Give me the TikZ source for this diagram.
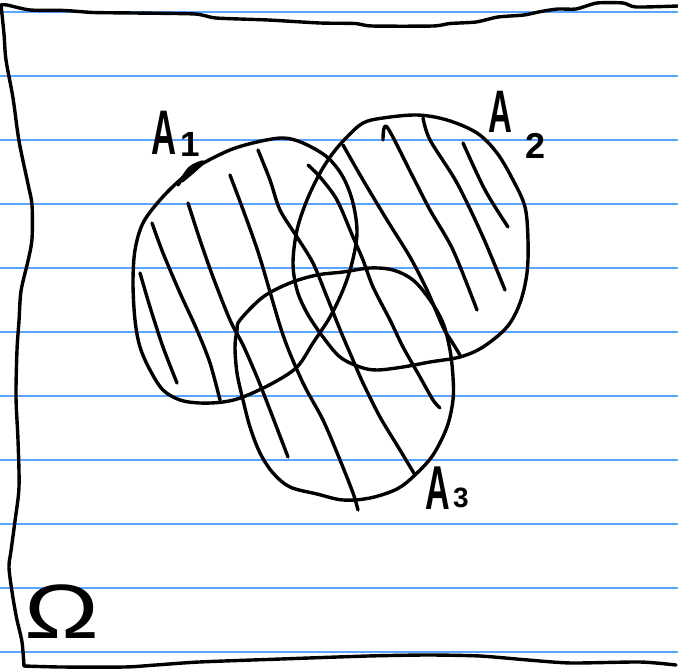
\documentclass[tikz,border=0pt]{standalone}
\usepackage{fontspec}
\setmainfont{Liberation Sans}
\definecolor{ruled}{RGB}{90,165,255}
\tikzset{
  ink/.style={line width=3.4pt, black, line cap=round, line join=round},
  rule/.style={line width=1.4pt, ruled},
  lbl/.style={inner sep=0pt, anchor=center}
}
\begin{document}
\begin{tikzpicture}[x=1pt, y=-1pt]
\useasboundingbox (0,0) rectangle (678,671);
% ruled lines
\foreach \yy in {12,76,140,204,268,332,396,460,524,588,652}
  \draw[rule] (0,\yy) -- (678,\yy);
% page border
\draw[ink] plot[smooth, tension=0.4] coordinates {(678,6) (636,7) (623,3) (597,3) (576,9) (558,9) (541,11.5) (524,15) (498,17) (476,22) (450,23.5) (433,26) (372,26) (355,23.5) (320,23) (268,20) (216,18) (195,14) (134,13) (93,12.5) (65,10.5) (30,10) (7,5) (1,5)};
\draw[ink] plot[smooth, tension=0.5] coordinates {(1,5) (4,34) (6,60) (13,98) (19,141) (28,184) (32,205) (32,239) (28,261) (21,291) (19,321) (17,350) (16,397) (18,440) (19,487) (15,521) (11,551) (9,568) (13,598) (17,620) (22,642) (24,666)};
\draw[ink] plot[smooth, tension=0.4] coordinates {(24,666) (60,667) (125,667) (156,665) (199,662) (281,659) (368,656) (428,655) (480,656) (528,660) (571,663) (640,662) (676,665)};
% A1
\draw[ink] plot[smooth cycle, tension=0.55] coordinates {(180,180) (200,165) (230,150) (257,142) (283,138) (303,143) (327,157) (343,177) (353,203) (357,233) (352,263) (343,290) (330,317) (313,343) (297,367) (273,383) (243,397) (223,402) (200,403) (180,400) (163,390) (150,370) (140,347) (135,320) (133,283) (135,250) (143,223) (160,200)};
\draw[ink] plot[smooth, tension=0.5] coordinates {(178,185) (190,168) (203,162) (195,170) (182,181)};
% A2
\draw[ink] plot[smooth cycle, tension=0.55] coordinates {(363,123) (383,118) (417,115) (447,120) (477,133) (497,153) (513,180) (525,207) (528,240) (527,273) (520,303) (507,327) (483,347) (460,357) (430,362) (403,367) (377,370) (360,367) (340,357) (323,337) (307,313) (297,290) (293,263) (297,230) (307,200) (320,173) (333,153) (347,137)};
% A3
\draw[ink] plot[smooth cycle, tension=0.55] coordinates {(240,320) (263,297) (290,283) (317,275) (343,272) (370,268) (393,270) (413,280) (430,300) (443,323) (450,350) (453,377) (453,400) (447,427) (433,455) (415,475) (397,489) (370,498) (343,500) (317,494) (290,487) (273,473) (260,453) (250,427) (243,400) (237,373) (235,347) (237,330)};
% hatching
\draw[ink] plot[smooth] coordinates {(140,273) (150,307) (163,347) (177,383)};
\draw[ink] plot[smooth] coordinates {(152,223) (163,253) (180,293) (197,330) (210,363) (220,400)};
\draw[ink] plot[smooth] coordinates {(188,203) (200,240) (213,277) (230,320) (243,345) (257,377) (270,410) (288,457)};
\draw[ink] plot[smooth] coordinates {(230,175) (245,215) (260,258) (283,335) (303,383) (323,420) (340,460) (353,493) (358,510)};
\draw[ink] plot[smooth] coordinates {(258,150) (270,180) (280,210) (297,237) (313,263) (327,297) (341,332) (353,360) (363,383) (380,417) (400,450) (415,475)};
\draw[ink] plot[smooth] coordinates {(308,165) (320,177) (337,200) (353,237) (363,260) (373,287) (390,320) (403,347) (420,377) (433,400) (440,408)};
\draw[ink] plot[smooth] coordinates {(343,145) (363,180) (387,220) (410,257) (427,290) (443,327) (452,342) (460,355)};
\draw[ink] plot[smooth] coordinates {(383,140) (387,127) (413,177) (430,210) (453,250) (477,310)};
\draw[ink] plot[smooth] coordinates {(423,118) (430,140) (457,183) (483,237) (505,290)};
\draw[ink] plot[smooth] coordinates {(463,143) (485,190) (508,227)};
% labels
\node[lbl, font=\fontsize{63}{63}\selectfont\bfseries] (a1) at (164,133) {\scalebox{0.55}[1]{A}};
\node[lbl, font=\fontsize{35}{35}\selectfont\bfseries] (s1) at (190,144) {1};
\node[lbl, font=\fontsize{60}{60}\selectfont\bfseries] (a2) at (500,112) {\scalebox{0.55}[1]{A}};
\node[lbl, font=\fontsize{36}{36}\selectfont\bfseries] (s2) at (536,146) {2};
\node[lbl, font=\fontsize{62}{62}\selectfont\bfseries] (a3) at (438,488) {\scalebox{0.55}[1]{A}};
\node[lbl, font=\fontsize{28}{28}\selectfont\bfseries] (s3) at (461,498) {3};
\node[lbl, font=\fontsize{77}{77}\selectfont] (om) at (62,612) {\scalebox{1.3}[1]{Ω}};
\end{tikzpicture}
\end{document}
